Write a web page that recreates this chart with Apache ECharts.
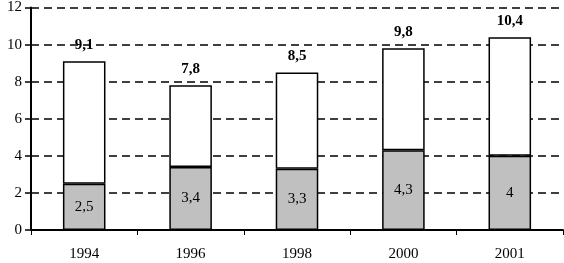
<!DOCTYPE html>
<html><head><meta charset="utf-8">
<script src="https://cdn.jsdelivr.net/npm/echarts@6/dist/echarts.min.js"></script>
<style>html,body{margin:0;padding:0;background:#fff}#c{width:564px;height:263px}</style>
</head><body><div id="c"></div>
<script>
const categories = ['1994','1996','1998','2000','2001'];
const lowerValues = [2.5, 3.4, 3.3, 4.3, 4];
const totalValues = [9.1, 7.8, 8.5, 9.8, 10.4];
const upperValues = totalValues.map((t,i)=>+(t - lowerValues[i]).toFixed(2));
const fmt = v => String(v).replace('.', ',');
const font = 'Liberation Serif';
const chart = echarts.init(document.getElementById('c'));
chart.setOption({
  animation:false,
  grid:{left:31,right:1,top:7,bottom:33},
  xAxis:{type:'category',data:categories,
    axisLine:{lineStyle:{color:'#000',width:2}},
    axisTick:{show:true,alignWithLabel:false,length:5,lineStyle:{color:'#000',width:1}},
    axisLabel:{color:'#000',fontFamily:font,fontSize:15,margin:17}},
  yAxis:{type:'value',min:0,max:12,interval:2,
    axisLine:{show:true,lineStyle:{color:'#000',width:2}},
    axisTick:{show:true,length:6,lineStyle:{color:'#000',width:1.5}},
    axisLabel:{color:'#000',fontFamily:font,fontSize:15,margin:9},
    splitLine:{lineStyle:{color:'#000',width:1.5,type:[8,5]}}},
  series:[
    {type:'bar',stack:'a',data:lowerValues,barWidth:'40%',
     itemStyle:{color:'#c0c0c0',borderColor:'#000',borderWidth:1.5},
     label:{show:true,position:'inside',color:'#000',fontFamily:font,fontSize:15,formatter:p=>fmt(p.value)}},
    {type:'bar',stack:'a',data:upperValues,barWidth:'40%',
     itemStyle:{color:'#fff',borderColor:'#000',borderWidth:1.5},
     label:{show:true,position:'top',distance:9,color:'#000',fontFamily:font,fontSize:15,fontWeight:'bold',
       formatter:p=>fmt(totalValues[p.dataIndex])}}
  ]
});
</script></body></html>
